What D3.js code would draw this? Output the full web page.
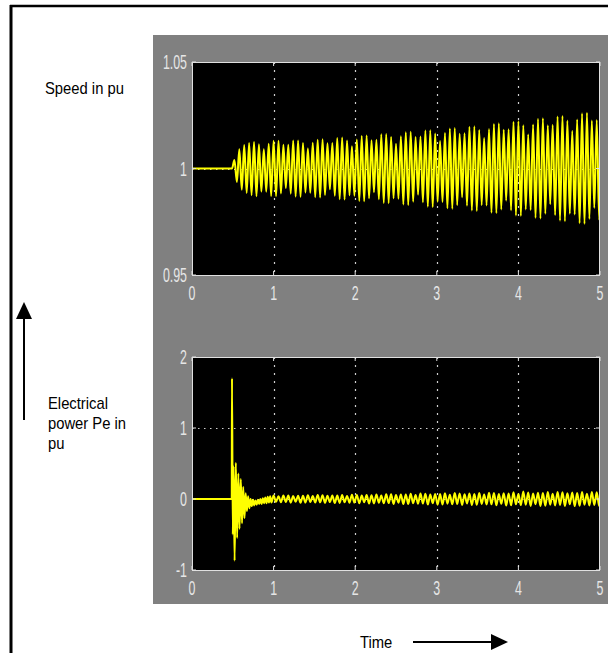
<!DOCTYPE html>
<html>
<head>
<meta charset="utf-8">
<title>Speed and electrical power</title>
<script src="https://cdn.jsdelivr.net/npm/d3@7"></script>
<style>
  body { margin: 0; background: #fff; }
  svg text { font-family: "Liberation Sans", Arial, sans-serif; }
  .tick-label { fill: #e6e6e6; font-size: 20px; }
  .side-label { fill: #000; font-size: 17px; }
</style>
</head>
<body>
<svg id="chart" width="608" height="653"></svg>
<script>
// ---- data ----
var xTicks = [0, 1, 2, 3, 4, 5];
var speedTicks = [0.95, 1, 1.05];
var speedTickLabels = ["0.95", "1", "1.05"];
var powerTicks = [-1, 0, 1, 2];
var powerTickLabels = ["-1", "0", "1", "2"];

// speed: flat at 1 until the fault, then alternating peaks every 0.03 s
var speedStartTime = 0.49;
var speedStep = 0.03;
var speedPeaks = [
  1.0000, 1.0040, 0.9937, 1.0090, 0.9900, 1.0110, 0.9885, 1.0120, 0.9875, 1.0125,
  0.9870, 1.0114, 0.9892, 1.0090, 0.9891, 1.0116, 0.9871, 1.0130, 0.9870, 1.0130,
  0.9883, 1.0111, 0.9908, 1.0111, 0.9882, 1.0132, 0.9868, 1.0132, 0.9867, 1.0120,
  0.9887, 1.0094, 0.9886, 1.0121, 0.9865, 1.0135, 0.9864, 1.0137, 0.9876, 1.0118,
  0.9902, 1.0120, 0.9872, 1.0143, 0.9856, 1.0145, 0.9854, 1.0132, 0.9874, 1.0104,
  0.9872, 1.0136, 0.9848, 1.0153, 0.9846, 1.0155, 0.9860, 1.0133, 0.9889, 1.0135,
  0.9856, 1.0161, 0.9838, 1.0162, 0.9837, 1.0148, 0.9860, 1.0116, 0.9858, 1.0151,
  0.9831, 1.0170, 0.9829, 1.0172, 0.9844, 1.0148, 0.9877, 1.0150, 0.9841, 1.0178,
  0.9821, 1.0180, 0.9819, 1.0164, 0.9844, 1.0129, 0.9843, 1.0167, 0.9813, 1.0188,
  0.9811, 1.0190, 0.9828, 1.0163, 0.9865, 1.0165, 0.9825, 1.0196, 0.9803, 1.0198,
  0.9800, 1.0181, 0.9828, 1.0143, 0.9826, 1.0185, 0.9792, 1.0209, 0.9790, 1.0212,
  0.9808, 1.0182, 0.9849, 1.0184, 0.9804, 1.0220, 0.9779, 1.0222, 0.9777, 1.0203,
  0.9808, 1.0160, 0.9805, 1.0207, 0.9768, 1.0233, 0.9765, 1.0236, 0.9787, 1.0203,
  0.9832, 1.0205, 0.9781, 1.0244, 0.9755, 1.0247, 0.9752, 1.0225, 0.9787, 1.0177,
  0.9784, 1.0230, 0.9743, 1.0259, 0.9740, 1.0262, 0.9763, 1.0225, 0.9814, 1.0228,
  0.9757, 1.0270
];

// electrical power: transient right after the fault (irregular times)
var powerTransientTimes = [
  0, 0.487, 0.490, 0.500, 0.510, 0.522, 0.537, 0.553, 0.568, 0.582,
  0.598, 0.613, 0.628, 0.643, 0.658, 0.673, 0.688, 0.703, 0.718, 0.733,
  0.748, 0.763, 0.778, 0.793, 0.808, 0.823, 0.838, 0.853, 0.868, 0.883,
  0.898, 0.913, 0.928, 0.943, 0.958, 0.973
];
var powerTransientValues = [
  0, 0, 1.70, -0.50, 0.46, -0.87, 0.51, -0.55, 0.36, -0.42,
  0.28, -0.34, 0.17, -0.27, 0.08, -0.17, 0.04, -0.13, 0.00, -0.10,
  -0.01, -0.09, -0.02, -0.08, -0.01, -0.07, 0.00, -0.07, 0.01, -0.06,
  0.02, -0.06, 0.03, -0.05, 0.04, -0.05
];
// then a small steady oscillation, alternating peaks every 0.03 s from t = 1
var powerSteadyStart = 1.0;
var powerSteadyStep = 0.03;
var powerSteadyPeaks = [
  0.050, -0.040, 0.038, -0.045, 0.051, -0.043, 0.048, -0.052, 0.042, -0.039,
  0.047, -0.053, 0.045, -0.050, 0.054, -0.043, 0.041, -0.050, 0.055, -0.047,
  0.053, -0.056, 0.045, -0.043, 0.051, -0.057, 0.049, -0.055, 0.058, -0.047,
  0.044, -0.053, 0.060, -0.051, 0.057, -0.061, 0.050, -0.047, 0.057, -0.063,
  0.054, -0.062, 0.065, -0.053, 0.050, -0.060, 0.068, -0.058, 0.066, -0.070,
  0.056, -0.053, 0.065, -0.072, 0.062, -0.070, 0.074, -0.060, 0.056, -0.068,
  0.077, -0.065, 0.074, -0.078, 0.063, -0.060, 0.072, -0.080, 0.069, -0.077,
  0.081, -0.066, 0.061, -0.074, 0.083, -0.071, 0.079, -0.084, 0.067, -0.063,
  0.076, -0.085, 0.072, -0.081, 0.086, -0.069, 0.065, -0.078, 0.088, -0.075,
  0.085, -0.089, 0.072, -0.068, 0.082, -0.092, 0.078, -0.088, 0.094, -0.075,
  0.071, -0.086, 0.105, -0.082, 0.092, -0.097, 0.078, -0.074, 0.089, -0.099,
  0.085, -0.095, 0.100, -0.080, 0.075, -0.090, 0.100, -0.085, 0.095, -0.100,
  0.080, -0.075, 0.090, -0.100, 0.085, -0.095, 0.100, -0.080, 0.075, -0.090,
  0.100, -0.085, 0.095, -0.100, 0.080
];

// ---- build point lists ----
var speedData = [[0, 1]];
speedPeaks.forEach(function (v, i) { speedData.push([speedStartTime + i * speedStep, v]); });

var powerData = powerTransientTimes.map(function (t, i) { return [t, powerTransientValues[i]]; });
powerSteadyPeaks.forEach(function (v, i) { powerData.push([powerSteadyStart + i * powerSteadyStep, v]); });

// ---- layout ----
var svg = d3.select("#chart");
var left = 192, right = 600;
var narrow = 0.87;   // squeeze Liberation Sans to look like the scope's narrow font

var x = d3.scaleLinear().domain([0, 5]).range([left, right]);
var ySpeed = d3.scaleLinear().domain([0.95, 1.05]).range([275, 62]);
var yPower = d3.scaleLinear().domain([-1, 2]).range([570, 357]);

function placeText(sel, px, py, sx) {
  sel.attr("transform", function (d, i) {
    var a = typeof px === "function" ? px(d, i) : px;
    var b = typeof py === "function" ? py(d, i) : py;
    return "translate(" + a + "," + b + ") scale(" + sx + ",1)";
  });
  return sel;
}

// outer frame
svg.append("line").attr("x1", 10).attr("y1", 6).attr("x2", 608).attr("y2", 6)
   .attr("stroke", "#000").attr("stroke-width", 2.5);
svg.append("line").attr("x1", 11).attr("y1", 5).attr("x2", 11).attr("y2", 653)
   .attr("stroke", "#000").attr("stroke-width", 3);

// gray scope panel
svg.append("rect").attr("x", 153).attr("y", 35).attr("width", 460).attr("height", 569)
   .attr("fill", "#808080");

function drawScope(y, ticks, tickLabels, gridValues, data, id) {
  var top = y.range()[1], bottom = y.range()[0];
  var g = svg.append("g");

  g.append("rect").attr("x", left).attr("y", top)
   .attr("width", right - left).attr("height", bottom - top)
   .attr("fill", "#000");

  // dotted grid
  g.selectAll("line.vgrid").data(xTicks.slice(1, -1)).enter().append("line")
   .attr("class", "vgrid")
   .attr("x1", function (d) { return Math.round(x(d)) + 0.5; })
   .attr("x2", function (d) { return Math.round(x(d)) + 0.5; })
   .attr("y1", top).attr("y2", bottom)
   .attr("stroke", "#cfcfcf").attr("stroke-width", 1.2).attr("stroke-dasharray", "2,6");
  g.selectAll("line.hgrid").data(gridValues).enter().append("line")
   .attr("class", "hgrid")
   .attr("y1", function (d) { return Math.round(y(d)) + 0.5; })
   .attr("y2", function (d) { return Math.round(y(d)) + 0.5; })
   .attr("x1", left).attr("x2", right)
   .attr("stroke", "#cfcfcf").attr("stroke-width", 1.2).attr("stroke-dasharray", "1.5,4.5");

  // trace
  g.append("clipPath").attr("id", id).append("rect")
   .attr("x", left).attr("y", top).attr("width", right - left).attr("height", bottom - top);
  var line = d3.line()
    .x(function (d) { return x(d[0]); })
    .y(function (d) { return y(d[1]); })
    .curve(d3.curveMonotoneX);
  g.append("path").datum(data)
   .attr("clip-path", "url(#" + id + ")")
   .attr("d", line)
   .attr("fill", "none").attr("stroke", "#ffff00").attr("stroke-width", 2);

  // inward tick marks
  g.selectAll("line.xtick").data(xTicks).enter().append("line")
   .attr("x1", function (d) { return x(d); }).attr("x2", function (d) { return x(d); })
   .attr("y1", bottom).attr("y2", bottom - 4)
   .attr("stroke", "#e0e0e0");
  g.selectAll("line.xtickt").data(xTicks).enter().append("line")
   .attr("x1", function (d) { return x(d); }).attr("x2", function (d) { return x(d); })
   .attr("y1", top).attr("y2", top + 4)
   .attr("stroke", "#e0e0e0");
  g.selectAll("line.ytick").data(ticks).enter().append("line")
   .attr("x1", left).attr("x2", left + 4)
   .attr("y1", function (d) { return y(d); }).attr("y2", function (d) { return y(d); })
   .attr("stroke", "#e0e0e0");
  g.selectAll("line.ytickr").data(ticks).enter().append("line")
   .attr("x1", right - 4).attr("x2", right)
   .attr("y1", function (d) { return y(d); }).attr("y2", function (d) { return y(d); })
   .attr("stroke", "#e0e0e0");

  // axes frame
  g.append("rect").attr("x", left + 0.5).attr("y", top + 0.5)
   .attr("width", right - left - 1).attr("height", bottom - top)
   .attr("fill", "none").attr("stroke", "#e0e0e0").attr("stroke-width", 1);

  // tick labels
  var xl = g.selectAll("text.xl").data(xTicks).enter().append("text")
   .attr("class", "tick-label")
   .attr("text-anchor", "middle")
   .text(function (d) { return d; });
  placeText(xl, function (d) { return x(d); }, bottom + 25, 0.62);
  var yl = g.selectAll("text.yl").data(ticks).enter().append("text")
   .attr("class", "tick-label")
   .attr("text-anchor", "end")
   .text(function (d, i) { return tickLabels[i]; });
  placeText(yl, left - 5, function (d) { return y(d) + 7; }, 0.62);
}

drawScope(ySpeed, speedTicks, speedTickLabels, [1], speedData, "clipSpeed");
drawScope(yPower, powerTicks, powerTickLabels, [0, 1], powerData, "clipPower");

// side labels
placeText(svg.append("text").attr("class", "side-label").text("Speed in pu"), 45, 94, narrow);
var peLines = ["Electrical", "power Pe in", "pu"];
var pe = svg.selectAll("text.pe").data(peLines).enter().append("text")
   .attr("class", "side-label")
   .text(function (d) { return d; });
placeText(pe, 48, function (d, i) { return 409 + i * 20; }, narrow);
placeText(svg.append("text").attr("class", "side-label").text("Time"), 360, 648, narrow);

// arrows
svg.append("line").attr("x1", 24).attr("y1", 420).attr("x2", 24).attr("y2", 315)
   .attr("stroke", "#000").attr("stroke-width", 2);
svg.append("path").attr("d", "M24,302 L16,319 L32,319 Z").attr("fill", "#000");
svg.append("line").attr("x1", 413).attr("y1", 642).attr("x2", 494).attr("y2", 642)
   .attr("stroke", "#000").attr("stroke-width", 2);
svg.append("path").attr("d", "M508,642 L491,634 L491,650 Z").attr("fill", "#000");
</script>
</body>
</html>
